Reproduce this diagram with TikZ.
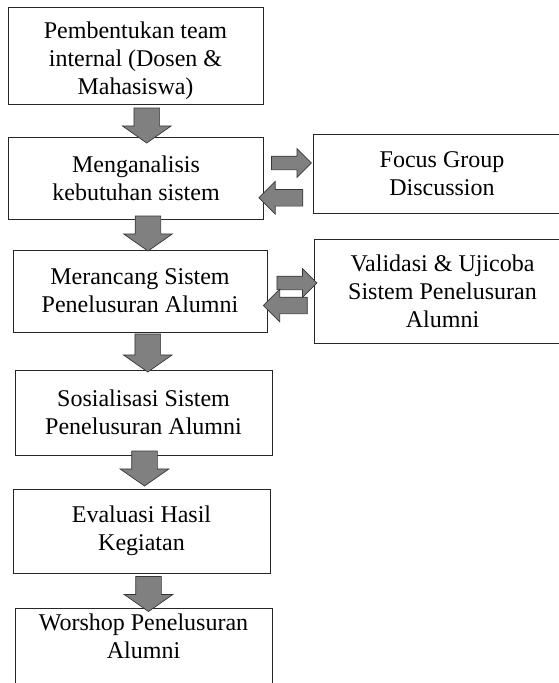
\documentclass[tikz,border=0pt]{standalone}
\usepackage{fontspec}
\setmainfont{Liberation Serif}
\usetikzlibrary{shapes.arrows, positioning, calc}
\definecolor{arrowgray}{RGB}{128, 128, 128}
\definecolor{edgegray}{RGB}{55, 55, 55}
\tikzstyle{box} = [rectangle, draw=black!85, line width=1pt, text width=243pt, inner xsep=6pt, align=flush center, font=\fontsize{24}{28}\selectfont]
\tikzstyle{downarrow} = [single arrow, rotate=-90, draw=edgegray, fill=arrowgray, line width=0.7pt, inner xsep=0pt, inner ysep=12.5pt, minimum width=48pt, minimum height=35pt, single arrow head extend=11.5pt, single arrow tip angle=110]
\tikzstyle{fwdarrow} = [single arrow, draw=edgegray, fill=arrowgray, line width=0.7pt, inner xsep=0pt, inner ysep=6.5pt, minimum width=28pt, minimum height=40pt, single arrow head extend=7.5pt, single arrow tip angle=90]
\tikzstyle{backarrow} = [fwdarrow, rotate=180, inner ysep=8pt, minimum width=32pt, minimum height=44pt, single arrow head extend=8pt]

\begin{document}
\begin{tikzpicture}
\useasboundingbox (0,0) rectangle (558pt,-683pt);

% Main flow
\node (team) [box, minimum height=97pt, text depth=50pt] at (135.5pt,-55.5pt) {Pembentukan team\\internal (Dosen \&\\Mahasiswa)};
\node (analisis) [box, minimum height=82pt, below=32pt of team, xshift=0.5pt] {Menganalisis\\kebutuhan sistem};
\node (rancang) [box, minimum height=82pt, below=30pt of analisis, xshift=4pt, text width=242pt] {Merancang Sistem\\Penelusuran Alumni};
\node (sosialisasi) [box, minimum height=85pt, below=37pt of rancang, xshift=3.5pt, text width=245pt] {Sosialisasi Sistem\\Penelusuran Alumni};
\node (evaluasi) [box, minimum height=84pt, below=33pt of sosialisasi, xshift=-2pt, text width=245pt] {Evaluasi Hasil\\Kegiatan};
\node (workshop) [box, minimum height=110pt, text depth=82pt, below=34pt of evaluasi, xshift=2pt, text width=245pt] {Worshop Penelusuran\\Alumni};

% Side boxes
\node (fgd) [box, minimum height=79pt, right=49pt of analisis, yshift=4.5pt, text width=245pt] {Focus Group\\Discussion};
\node (validasi) [box, minimum height=104pt, right=46pt of rancang, text width=245pt] {Validasi \& Ujicoba\\Sistem Penelusuran\\Alumni};

% Down arrows
\node (arr1) [downarrow] at ($(team.south)!0.5!(analisis.north)+(11pt,-0.5pt)$) {};
\node (arr2) [downarrow] at ($(analisis.south)!0.5!(rancang.north)+(10pt,5.5pt)$) {};
\node (arr3) [downarrow, minimum height=38pt] at ($(rancang.south)!0.5!(sosialisasi.north)+(6pt,2.5pt)$) {};
\node (arr4) [downarrow] at ($(sosialisasi.south)!0.5!(evaluasi.north)+(2pt,8pt)$) {};
\node (arr5) [downarrow] at ($(evaluasi.south)!0.5!(workshop.north)+(6pt,1pt)$) {};

% Side arrows
\node (go1) [fwdarrow] at ($(analisis.east)!0.5!(fgd.west)+(-0.5pt,12.75pt)$) {};
\node (back1) [backarrow] at ($(analisis.east)!0.5!(fgd.west)+(-3.5pt,-22pt)$) {};
\node (go2) [fwdarrow] at ($(rancang.east)!0.5!(validasi.west)+(3pt,8pt)$) {};
\node (back2) [backarrow] at ($(rancang.east)!0.5!(validasi.west)+(-1pt,-14.5pt)$) {};

\end{tikzpicture}
\end{document}
